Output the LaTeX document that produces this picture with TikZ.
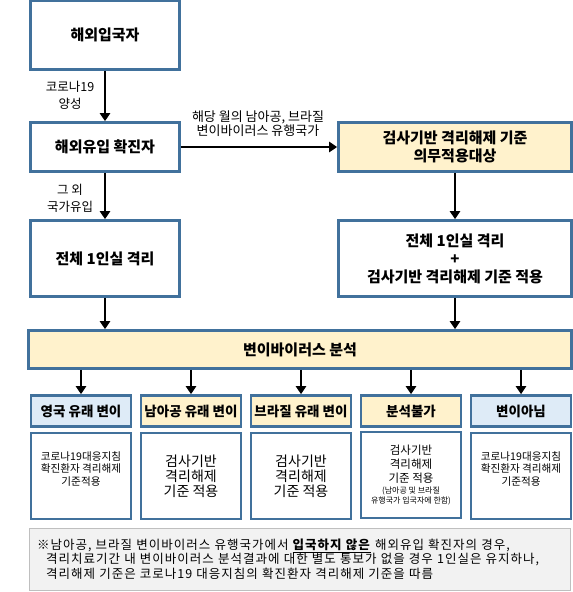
\documentclass[tikz,border=0pt]{standalone}
\usepackage{fontspec}
\setmainfont{Noto Sans CJK KR}
\usetikzlibrary{arrows.meta}

\definecolor{boxblue}{HTML}{41719C}
\definecolor{boxgold}{HTML}{FFF2CC}
\definecolor{boxsky}{HTML}{DEEBF7}
\definecolor{notegray}{HTML}{F2F2F2}
\definecolor{noteline}{HTML}{BFBFBF}

\tikzset{
  flowbox/.style={draw=boxblue, line width=2.6pt, fill=white, align=center, inner sep=0pt,
    font=\bfseries\fontsize{15}{18}\selectfont},
  headbox/.style={draw=boxblue, line width=2.6pt, align=center, inner sep=0pt,
    minimum width=100, minimum height=31, font=\bfseries\fontsize{13.5}{15}\selectfont},
  rulebox/.style={draw=boxblue, line width=2.6pt, fill=white, align=center, inner sep=0pt,
    minimum width=100, minimum height=86, font=\fontsize{14}{15}\selectfont},
  edgelabel/.style={align=center, inner sep=0pt, font=\fontsize{12.5}{17}\selectfont},
  flowarrow/.style={line width=2.2pt, -{Triangle[length=8pt, width=10pt]}}
}

\begin{document}
\begin{tikzpicture}[x=1pt, y=-1pt]
  \useasboundingbox (0,0) rectangle (573,592);

  % left column
  \node[flowbox, minimum width=149, minimum height=69] (entry) at (105,35) {해외입국자};
  \node[flowbox, minimum width=149, minimum height=49] (confirmed) at (105,147) {해외유입 확진자};
  \node[flowbox, minimum width=149, minimum height=76] (isolate) at (105,258.5) {전체 1인실 격리};

  % right column
  \node[flowbox, fill=boxgold, minimum width=233, minimum height=49] (target) at (455,147)
    {검사기반 격리해제 기준\\의무적용대상};
  \node[flowbox, minimum width=233, minimum height=76] (testrule) at (455,258.5)
    {전체 1인실 격리\\+\\검사기반 격리해제 기준 적용};

  % analysis bar
  \node[flowbox, fill=boxgold, minimum width=543, minimum height=38] (analysis) at (300,349.5) {변이바이러스 분석};

  % result headers
  \node[headbox, fill=boxsky] (ukHead) at (81,411) {영국 유래 변이};
  \node[headbox, fill=boxgold] (zaHead) at (191,411) {남아공 유래 변이};
  \node[headbox, fill=boxgold] (brHead) at (301,411) {브라질 유래 변이};
  \node[headbox, fill=boxgold] (naHead) at (411,411) {분석불가};
  \node[headbox, fill=boxsky] (noHead) at (521,411) {변이아님};

  % result rules
  \node[rulebox, font=\fontsize{10.6}{12.5}\selectfont] (ukRule) at (81,476) {코로나19대응지침\\확진환자 격리해제\\기준적용\\[3pt]};
  \node[rulebox] (zaRule) at (191,476) {검사기반\\격리해제\\기준 적용};
  \node[rulebox] (brRule) at (301,476) {검사기반\\격리해제\\기준 적용};
  \node[rulebox, font=\fontsize{11.5}{14}\selectfont] (naRule) at (411,475)
    {검사기반\\격리해제\\기준 적용\\[-3pt]{\fontsize{8}{9}\selectfont (남아공 및 브라질}\\[-4pt]{\fontsize{8}{9}\selectfont 유행국가 입국자에 한함)}};
  \node[rulebox, font=\fontsize{10.6}{12.5}\selectfont] (noRule) at (521,476) {코로나19대응지침\\확진환자 격리해제\\기준적용\\[3pt]};

  % note
  \node[draw=noteline, line width=1.2pt, fill=notegray, anchor=north west, minimum width=541,
    minimum height=62, text width=525, inner xsep=8pt, inner ysep=4pt, align=left,
    font=\fontsize{12.5}{14.5}\selectfont\addfontfeature{LetterSpace=8}] (note) at (28.5,527.5)
    {※남아공, 브라질 변이바이러스 유행국가에서 \underline{\textbf{입국하지 않은}} 해외유입 확진자의 경우,\\
     \hspace*{9pt}격리치료기간 내 변이바이러스 분석결과에 대한 별도 통보가 없을 경우 1인실은 유지하나,\\
     \hspace*{9pt}격리해제 기준은 코로나19 대응지침의 확진환자 격리해제 기준을 따름};

  % arrow labels
  \node[edgelabel] (posLabel) at (70,95.5) {코로나19\\양성};
  \node[edgelabel] (otherLabel) at (70,198.5) {그 외\\국가유입};
  \node[edgelabel, font=\fontsize{13}{14}\selectfont] (variantLabel) at (258,124)
    {해당 월의 남아공, 브라질\\변이바이러스 유행국가};

  % arrows
  \draw[flowarrow] (entry) -- (confirmed);
  \draw[flowarrow] (confirmed) -- (isolate);
  \draw[flowarrow] (confirmed) -- (target);
  \draw[flowarrow] (target) -- (testrule);
  \draw[flowarrow] (isolate.south) -- (isolate.south |- analysis.north);
  \draw[flowarrow] (testrule.south) -- (testrule.south |- analysis.north);
  \foreach \h in {ukHead, zaHead, brHead, naHead, noHead}
    \draw[flowarrow] (\h.north |- analysis.south) -- (\h.north);
\end{tikzpicture}
\end{document}
